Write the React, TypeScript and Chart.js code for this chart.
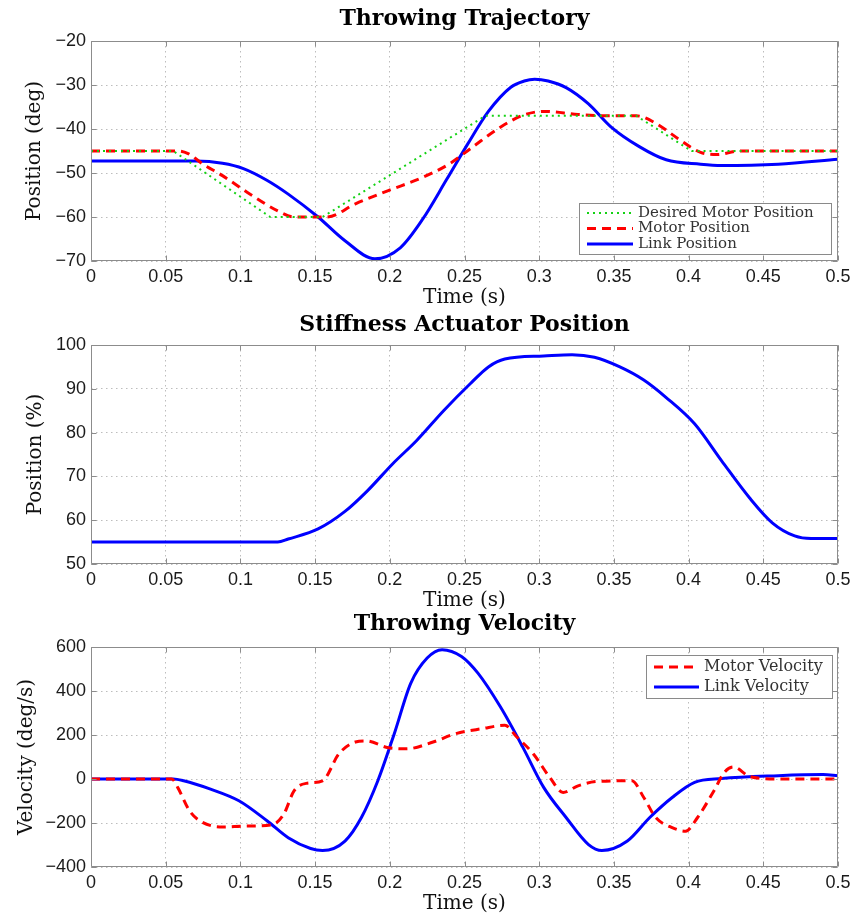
import React, { useEffect, useRef } from 'react';
import { Chart, registerables } from 'chart.js';

Chart.register(...registerables);

// ---------- axis ticks ----------
const X_TICKS = [0, 0.05, 0.1, 0.15, 0.2, 0.25, 0.3, 0.35, 0.4, 0.45, 0.5];
const X_TICK_LABELS = ['0', '0.05', '0.1', '0.15', '0.2', '0.25', '0.3', '0.35', '0.4', '0.45', '0.5'];

const POS_TICKS = [-70, -60, -50, -40, -30, -20];
const POS_TICK_LABELS = ['\u221270', '\u221260', '\u221250', '\u221240', '\u221230', '\u221220'];
const STIFF_TICKS = [50, 60, 70, 80, 90, 100];
const STIFF_TICK_LABELS = ['50', '60', '70', '80', '90', '100'];
const VEL_TICKS = [-400, -200, 0, 200, 400, 600];
const VEL_TICK_LABELS = ['\u2212400', '\u2212200', '0', '200', '400', '600'];

// ---------- Throwing Trajectory ----------
const DESIRED_T = [0, 0.055, 0.12, 0.155, 0.264, 0.365, 0.402, 0.5];
const DESIRED_POS = [-45, -45, -60, -60, -37, -37, -45, -45];

const MOTOR_T = [0, 0.058, 0.065, 0.075, 0.088, 0.106, 0.125, 0.136, 0.158, 0.177, 0.199, 0.222, 0.24, 0.255, 0.274, 0.289, 0.303, 0.326, 0.348, 0.365, 0.378, 0.393, 0.408, 0.419, 0.434, 0.5];
const MOTOR_POS = [-45, -45, -45.6, -48, -50.6, -54.7, -58.6, -60, -60, -57, -54, -51, -47.9, -44.2, -39.6, -36.9, -36, -36.7, -37, -37, -38.7, -42.2, -45.3, -45.8, -45, -45];

const LINK_T = [0, 0.07, 0.088, 0.102, 0.118, 0.132, 0.152, 0.17, 0.19, 0.207, 0.222, 0.238, 0.252, 0.266, 0.281, 0.29, 0.297, 0.306, 0.318, 0.333, 0.348, 0.367, 0.385, 0.408, 0.422, 0.46, 0.5];
const LINK_POS = [-47.3, -47.3, -47.8, -49, -51.7, -54.8, -60, -65.4, -69.5, -67, -60.5, -51.5, -43.5, -36, -30.5, -29.1, -28.7, -29.1, -30.6, -34.3, -39.5, -44, -47, -48, -48.3, -48, -46.9];

// ---------- Stiffness Actuator Position ----------
const STIFF_T = [0, 0.125, 0.132, 0.152, 0.17, 0.185, 0.202, 0.218, 0.236, 0.254, 0.266, 0.277, 0.303, 0.322, 0.337, 0.354, 0.37, 0.385, 0.404, 0.422, 0.441, 0.456, 0.471, 0.482, 0.5];
const STIFF_POS = [55, 55, 55.7, 58, 62, 66.7, 72.9, 78.2, 85, 91.2, 95, 96.8, 97.5, 97.8, 97.2, 95, 92, 88, 82, 73.6, 65, 59.4, 56.4, 55.8, 55.8];

// ---------- Throwing Velocity ----------
const MOTORVEL_T = [0, 0.054, 0.058, 0.066, 0.073, 0.088, 0.103, 0.121, 0.129, 0.136, 0.144, 0.155, 0.166, 0.177, 0.184, 0.199, 0.211, 0.229, 0.244, 0.262, 0.277, 0.285, 0.296, 0.307, 0.316, 0.326, 0.339, 0.362, 0.37, 0.378, 0.389, 0.398, 0.406, 0.417, 0.424, 0.43, 0.441, 0.46, 0.5];
const MOTORVEL = [0, 0, -38, -145, -191, -218, -214, -209, -160, -53, -20, -8, 115, 168, 173, 142, 137, 168, 206, 229, 244, 191, 115, 8, -61, -31, -11, -8, -84, -175, -221, -237, -175, -53, 31, 55, 11, 0, 0];

const LINKVEL_T = [0, 0.055, 0.062, 0.08, 0.099, 0.118, 0.132, 0.147, 0.155, 0.17, 0.181, 0.192, 0.203, 0.214, 0.225, 0.235, 0.248, 0.259, 0.274, 0.289, 0.303, 0.318, 0.333, 0.342, 0.359, 0.374, 0.389, 0.404, 0.422, 0.46, 0.49, 0.5];
const LINKVEL = [0, 0, -8, -46, -99, -191, -267, -316, -325, -282, -175, -8, 206, 435, 550, 588, 557, 481, 328, 145, -38, -175, -298, -325, -282, -175, -84, -15, 2, 15, 20, 15];

// ---------- styles ----------
const BLUE = '#0000ff';
const RED = '#ff0000';
const GREEN = '#14d214';
const SERIF = "'DejaVu Serif', serif";
const SANS = "'Liberation Sans', Arial, sans-serif";
const W = 863;

const pts = (t: number[], v: number[]) => t.map((x, i) => ({ x, y: v[i] }));

const framePlugin = {
  id: 'matlabFrame',
  afterDatasetsDraw(chart: any) {
    const { ctx, chartArea, scales } = chart;
    const { left, right, top, bottom } = chartArea;
    ctx.save();
    ctx.strokeStyle = '#8c8c8c';
    ctx.lineWidth = 1;
    ctx.setLineDash([]);
    ctx.beginPath();
    const L = Math.round(left) + 0.5, R = Math.round(right) - 0.5, T = Math.round(top) + 0.5, B = Math.round(bottom) - 0.5;
    ctx.rect(L, T, R - L, B - T);
    const tl = 5;
    scales.x.ticks.forEach((tk: any) => {
      const px = Math.round(scales.x.getPixelForValue(tk.value)) + 0.5;
      ctx.moveTo(px, B); ctx.lineTo(px, B - tl);
      ctx.moveTo(px, T); ctx.lineTo(px, T + tl);
    });
    scales.y.ticks.forEach((tk: any) => {
      const py = Math.round(scales.y.getPixelForValue(tk.value)) + 0.5;
      ctx.moveTo(L, py); ctx.lineTo(L + tl, py);
      ctx.moveTo(R, py); ctx.lineTo(R - tl, py);
    });
    ctx.stroke();
    ctx.restore();
  },
};

const boxLegendPlugin = {
  id: 'boxLegend',
  afterDatasetsDraw(chart: any, _args: any, opts: any) {
    if (!opts || !opts.show) return;
    const { ctx, chartArea } = chart;
    const left = Math.round(chartArea.right - opts.right - opts.width);
    const top = Math.round(opts.fromTop ? chartArea.top + opts.top : chartArea.bottom - opts.bottom - opts.height);
    ctx.save();
    ctx.fillStyle = '#ffffff';
    ctx.fillRect(left, top, opts.width, opts.height);
    ctx.strokeStyle = '#8a8a8a';
    ctx.lineWidth = 1;
    ctx.setLineDash([]);
    ctx.strokeRect(left + 0.5, top + 0.5, opts.width, opts.height);
    chart.data.datasets.forEach((ds: any, i: number) => {
      const y = top + opts.firstRow + i * opts.rowGap;
      ctx.beginPath();
      ctx.setLineDash(ds.borderDash || []);
      ctx.strokeStyle = ds.borderColor;
      ctx.lineWidth = ds.borderWidth;
      ctx.moveTo(left + opts.sampleX, y);
      ctx.lineTo(left + opts.sampleX + opts.sampleW, y);
      ctx.stroke();
      ctx.setLineDash([]);
      ctx.fillStyle = '#333333';
      ctx.font = opts.font;
      ctx.textBaseline = 'middle';
      ctx.textAlign = 'left';
      ctx.fillText(ds.label, left + opts.textX, y);
    });
    ctx.restore();
  },
};

function lineDs(label: string, data: any[], color: string, width: number, dash: number[], smooth: boolean) {
  return {
    label,
    data,
    borderColor: color,
    backgroundColor: color,
    borderWidth: width,
    borderDash: dash,
    pointRadius: 0,
    fill: false,
    tension: 0,
    cubicInterpolationMode: smooth ? 'monotone' : 'default',
    borderCapStyle: 'butt',
    borderJoinStyle: 'round',
  };
}

interface PlotSpec {
  title: string;
  titlePadTop: number;
  titlePadBottom: number;
  yTitle: string;
  yTitlePad: number;
  yMin: number;
  yMax: number;
  yTicks: number[];
  yLabels: string[];
  datasets: any[];
  legend: any;
}

function makeConfig(s: PlotSpec): any {
  return {
    type: 'line',
    data: { datasets: s.datasets },
    plugins: [framePlugin, boxLegendPlugin],
    options: {
      responsive: false,
      maintainAspectRatio: false,
      animation: false,
      events: [],
      layout: { padding: { left: 0, right: 25, top: 0, bottom: 0 } },
      plugins: {
        legend: { display: false },
        tooltip: { enabled: false },
        title: {
          display: true,
          fullSize: false,
          text: s.title,
          color: '#000',
          font: { family: SERIF, size: 22, weight: 'bold', lineHeight: 1 },
          padding: { top: s.titlePadTop, bottom: s.titlePadBottom },
        },
        boxLegend: s.legend,
      },
      scales: {
        x: {
          type: 'linear',
          min: 0,
          max: 0.5,
          afterBuildTicks: (sc: any) => { sc.ticks = X_TICKS.map((value) => ({ value })); },
          afterFit: (sc: any) => { sc.height = 49; },
          grid: { color: '#bdbdbd', lineWidth: 1, drawTicks: false },
          border: { display: false, dash: [1.5, 3.5] },
          ticks: {
            autoSkip: false,
            maxRotation: 0,
            minRotation: 0,
            padding: 5,
            color: '#1a1a1a',
            font: { family: SANS, size: 18, lineHeight: 1.2 },
            callback: (_v: any, i: number) => X_TICK_LABELS[i],
          },
          title: {
            display: true,
            text: 'Time (s)',
            color: '#111',
            font: { family: SERIF, size: 20, lineHeight: 1.2 },
            padding: { top: 0, bottom: 0 },
          },
        },
        y: {
          type: 'linear',
          min: s.yMin,
          max: s.yMax,
          afterBuildTicks: (sc: any) => { sc.ticks = s.yTicks.map((value) => ({ value })); },
          afterFit: (sc: any) => { sc.width = 91; },
          grid: { color: '#bdbdbd', lineWidth: 1, drawTicks: false },
          border: { display: false, dash: [1.5, 3.5] },
          ticks: {
            autoSkip: false,
            padding: 5,
            color: '#1a1a1a',
            font: { family: SANS, size: 18, lineHeight: 1.2 },
            callback: (_v: any, i: number) => s.yLabels[i],
          },
          title: {
            display: true,
            text: s.yTitle,
            color: '#111',
            font: { family: SERIF, size: 20, lineHeight: 1.2 },
            padding: { top: s.yTitlePad, bottom: 0 },
          },
        },
      },
    },
  };
}

function Plot({ top, height, spec }: { top: number; height: number; spec: PlotSpec }) {
  const ref = useRef<HTMLCanvasElement | null>(null);
  useEffect(() => {
    if (!ref.current) return;
    const chart = new Chart(ref.current, makeConfig(spec));
    return () => chart.destroy();
  }, []);
  return (
    <canvas
      ref={ref}
      width={W}
      height={height}
      style={{ position: 'absolute', left: 0, top, width: W, height, display: 'block' }}
    />
  );
}

const trajectorySpec: PlotSpec = {
  title: 'Throwing Trajectory',
  titlePadTop: 8.5,
  titlePadBottom: 10.5,
  yTitle: 'Position (deg)',
  yTitlePad: 23,
  yMin: -70,
  yMax: -20,
  yTicks: POS_TICKS,
  yLabels: POS_TICK_LABELS,
  datasets: [
    lineDs('Desired Motor Position', pts(DESIRED_T, DESIRED_POS), GREEN, 2, [2, 4], false),
    lineDs('Motor Position', pts(MOTOR_T, MOTOR_POS), RED, 3, [9, 6], true),
    lineDs('Link Position', pts(LINK_T, LINK_POS), BLUE, 3, [], true),
  ],
  legend: {
    show: true, fromTop: false, right: 7, bottom: 7, width: 252, height: 51,
    firstRow: 10, rowGap: 15.5, sampleX: 8, sampleW: 46, textX: 59,
    font: "15px 'DejaVu Serif', serif",
  },
};

const stiffnessSpec: PlotSpec = {
  title: 'Stiffness Actuator Position',
  titlePadTop: 14.5,
  titlePadBottom: 8.5,
  yTitle: 'Position (%)',
  yTitlePad: 24,
  yMin: 50,
  yMax: 100,
  yTicks: STIFF_TICKS,
  yLabels: STIFF_TICK_LABELS,
  datasets: [
    lineDs('Stiffness Actuator Position', pts(STIFF_T, STIFF_POS), BLUE, 3, [], true),
  ],
  legend: { show: false },
};

const velocitySpec: PlotSpec = {
  title: 'Throwing Velocity',
  titlePadTop: 13.5,
  titlePadBottom: 11.5,
  yTitle: 'Velocity (deg/s)',
  yTitlePad: 15,
  yMin: -400,
  yMax: 600,
  yTicks: VEL_TICKS,
  yLabels: VEL_TICK_LABELS,
  datasets: [
    lineDs('Motor Velocity', pts(MOTORVEL_T, MOTORVEL), RED, 3, [9, 6], true),
    lineDs('Link Velocity', pts(LINKVEL_T, LINKVEL), BLUE, 3, [], true),
  ],
  legend: {
    show: true, fromTop: true, right: 6, top: 8, width: 186, height: 43,
    firstRow: 12, rowGap: 20, sampleX: 8, sampleW: 45, textX: 58,
    font: "16px 'DejaVu Serif', serif",
  },
};

export default function App() {
  return (
    <div style={{ position: 'absolute', left: 0, top: 0, width: W, height: 919, background: '#fff', overflow: 'hidden' }}>
      <Plot top={0} height={310} spec={trajectorySpec} />
      <Plot top={300} height={313} spec={stiffnessSpec} />
      <Plot top={600} height={316} spec={velocitySpec} />
    </div>
  );
}
